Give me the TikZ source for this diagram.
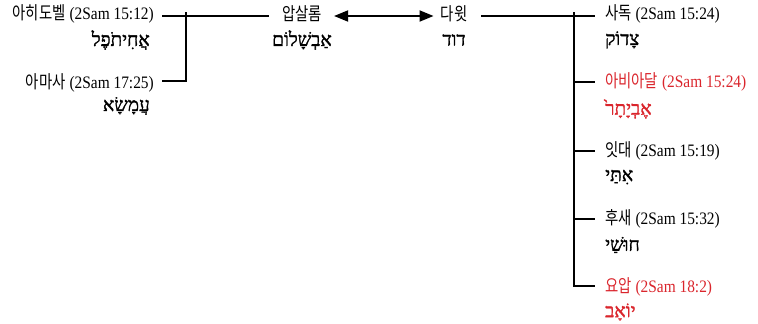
\documentclass[tikz,border=0pt]{standalone}
\usepackage{fontspec}
\setmainfont[FakeStretch=0.88]{Liberation Serif}
\newfontfamily\kr[FakeStretch=0.8]{Noto Sans CJK KR}
\newfontfamily\hebfont[Script=Hebrew,FakeBold=1.5]{Liberation Serif}
\TeXXeTstate=1
\usetikzlibrary{arrows.meta}
\definecolor{hred}{RGB}{218,37,44}
\tikzset{
  kor/.style={inner sep=0pt, font=\fontsize{17.5}{18}\selectfont},
  heb/.style={inner sep=0pt, font=\fontsize{19}{21}\selectfont\hebfont},
  conn/.style={line width=2.3pt},
  redtxt/.style={text=hred}
}
\newcommand{\kw}[1]{{\fontsize{18}{18}\selectfont\kr #1}}
\begin{document}
\begin{tikzpicture}[x=1pt,y=-1pt]
\useasboundingbox (0,0) rectangle (758,324);
% left side
\node[kor, anchor=east] (ahi) at (154,14) {\kw{아히도벨} (2Sam 15:12)};
\node[heb, anchor=east] (ahiH) at (150,40) {\beginR אֲחִיתֹפֶל\endR};
\node[kor, anchor=east] (ama) at (154,83) {\kw{아마사} (2Sam 17:25)};
\node[heb, anchor=east] (amaH) at (150,106) {\beginR עֲמָשָׂא\endR};
% centre
\node[kor] (abs) at (302,14) {\kw{압살롬}};
\node[heb] (absH) at (302,40) {\beginR אַבְשָׁלוֹם\endR};
\node[kor] (dav) at (454,14) {\kw{다윗}};
\node[heb] (davH) at (454,40) {\beginR דוד\endR};
% right side
\node[kor, anchor=west] (zad) at (605,14) {\kw{사독} (2Sam 15:24)};
\node[heb, anchor=west] (zadH) at (605,40) {\beginR צָדוֹק\endR};
\node[kor, anchor=west, redtxt] (abi) at (605,82) {\kw{아비아달} (2Sam 15:24)};
\node[heb, anchor=west, redtxt] (abiH) at (605,109) {\beginR אֶבְיָתָר֙\endR};
\node[kor, anchor=west] (itt) at (605,151) {\kw{잇대} (2Sam 15:19)};
\node[heb, anchor=west] (ittH) at (605,177) {\beginR אִתַּי\endR};
\node[kor, anchor=west] (hus) at (605,219) {\kw{후새} (2Sam 15:32)};
\node[heb, anchor=west] (husH) at (605,245) {\beginR חוּשַׁי\endR};
\node[kor, anchor=west, redtxt] (joa) at (605,287) {\kw{요압} (2Sam 18:2)};
\node[heb, anchor=west, redtxt] (joaH) at (605,312) {\beginR יוֹאָב\endR};
% junctions
\coordinate (jL) at (186,12);
\coordinate (jR) at (574,12);
% connectors
\draw[conn] ([xshift=8pt,yshift=-2pt]ahi.east) -- ([xshift=-13pt,yshift=-2pt]abs.west);
\draw[conn] (jL) |- ([xshift=8pt,yshift=2pt]ama.east);
\draw[{Stealth[length=14pt,width=11pt,inset=0pt]}-{Stealth[length=14pt,width=11pt,inset=0pt]}, line width=1.8pt]
  ([xshift=12pt,yshift=-2pt]abs.east) -- ([xshift=-7pt,yshift=-2pt]dav.west);
\draw[conn] ([xshift=14pt,yshift=-2pt]dav.east) -- ([xshift=-10pt,yshift=-2pt]zad.west);
\draw[conn] (jR) |- ([xshift=-10pt,yshift=1pt]joa.west);
\foreach \n in {abi,itt,hus} \draw[conn] (jR |- \n.west) -- ([xshift=-10pt]\n.west);
\end{tikzpicture}
\end{document}
